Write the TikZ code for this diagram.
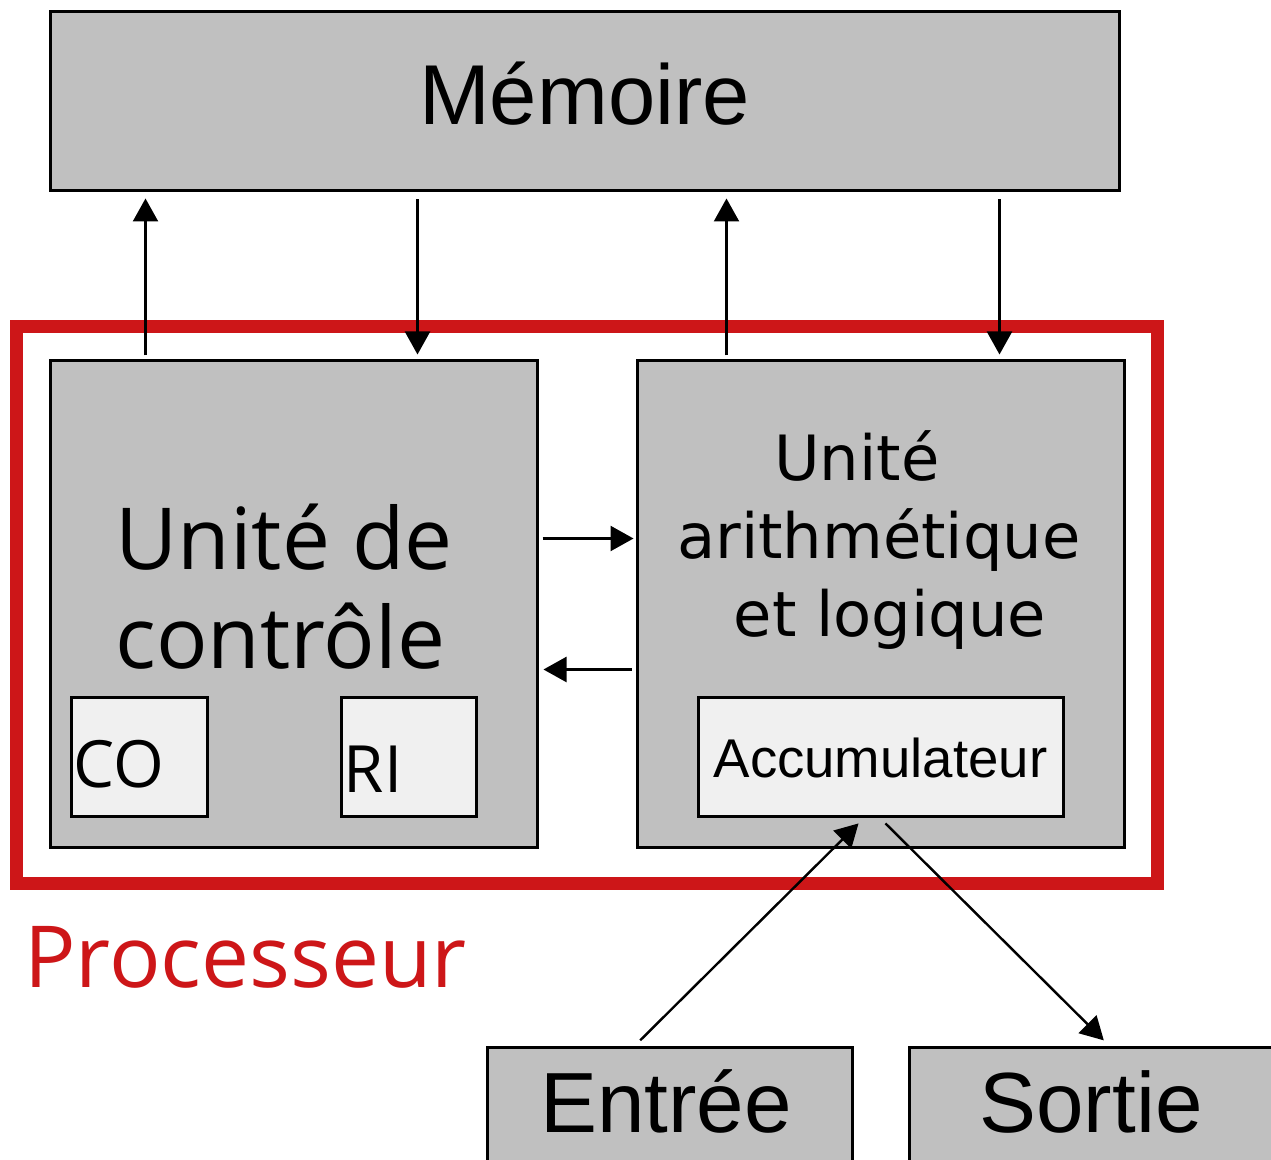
\documentclass[tikz,border=0pt]{standalone}
\usepackage{fontspec}
\setmainfont{Liberation Sans}
\newfontfamily\opensans{Open Sans}
\newfontfamily\dejavu{DejaVu Sans}
\usetikzlibrary{positioning,calc,arrows.meta}

\definecolor{boxgray}{RGB}{192,192,192}
\definecolor{regfill}{RGB}{240,240,240}
\definecolor{cpured}{RGB}{205,22,24}

\begin{document}
\begin{tikzpicture}[x=0.5pt, y=-0.5pt,
unit/.style={draw, line width=1.5pt, fill=boxgray, inner sep=0},
reg/.style={draw, line width=1.5pt, fill=regfill, inner sep=0, minimum height=59.5pt},
arr/.style={line width=1.2pt, -{Triangle[length=11.5pt,width=12.5pt]}, shorten <=2pt, shorten >=2.5pt}
]
\useasboundingbox (0,0) rectangle (1271,1160);
\clip (0,0) rectangle (1271,1160);

% memory
\node[unit, minimum width=534.5pt, minimum height=89.5pt] (mem) at (584.5,101.5) {};
\node[font=\fontsize{42.5}{50}\selectfont, inner sep=0] (memtxt) at ([yshift=4pt]mem.center) {Mémoire};

% processor frame
\node[draw=cpured, line width=6.5pt, minimum width=570.5pt, minimum height=278.5pt] (cpu) at (586.5,605.5) {};
\node[font=\opensans\fontsize{42.8}{50}\selectfont, text=cpured, anchor=base west, inner sep=0] (cpulbl) at (24,987) {Processeur};

% control unit and ALU
\node[unit, minimum width=243.5pt, minimum height=243.5pt] (uc) at (293.5,604.5) {};
\node[unit, minimum width=243.5pt, minimum height=243.5pt] (ual) at (880.5,604.5) {};
\node[font=\opensans\fontsize{42.8}{49.5}\selectfont, align=left, inner sep=0, anchor=west] (uctxt) at (115,587) {Unité de\\contrôle};
\node[font=\dejavu\fontsize{31.2}{39}\selectfont, align=center, inner sep=0] (ualtxt) at (879,540) {Unité\hspace*{22pt}\\arithmétique\\\hspace*{11pt}et logique};

% registers
\node[reg, minimum width=68pt] (co) at (139,757.5) {};
\node[reg, minimum width=67.5pt] (ri) at (408.5,757.5) {};
\node[reg, minimum width=182.5pt, font=\fontsize{27.3}{32}\selectfont] (acc) at (880.5,757.5) {Accumulateur};
\node[font=\opensans\fontsize{32.6}{38}\selectfont, anchor=base west, inner sep=0] (cotxt) at ($(co.west)+(4,30.5)$) {CO};
\node[font=\opensans\fontsize{32.6}{38}\selectfont, anchor=base west, inner sep=0] (ritxt) at ($(ri.west)+(4,35.5)$) {RI};

% input / output
\node[unit, anchor=north, minimum width=182.5pt, minimum height=100pt] (in) at (669.5,1046) {};
\node[unit, anchor=north, minimum width=182.5pt, minimum height=100pt] (out) at (1091.5,1046) {};
\node[font=\fontsize{42.7}{49}\selectfont, anchor=base, inner sep=0] (intxt) at (666,1132) {Entrée};
\node[font=\fontsize{42.7}{49}\selectfont, anchor=base, inner sep=0] (outtxt) at (1091,1132) {Sortie};

% memory buses
\coordinate (uc-up) at ($(uc.north west)+(97,0)$);
\coordinate (uc-dn) at ($(uc.north west)+(369,0)$);
\coordinate (ual-up) at ($(ual.north west)+(91,0)$);
\coordinate (ual-dn) at ($(ual.north west)+(364,0)$);
\draw[arr, shorten >=3pt] (uc-up) -- (uc-up |- mem.south);
\draw[arr, shorten <=3.5pt] (uc-dn |- mem.south) -- (uc-dn);
\draw[arr, shorten >=3pt] (ual-up) -- (ual-up |- mem.south);
\draw[arr, shorten <=3.5pt] (ual-dn |- mem.south) -- (ual-dn);

% between the units
\coordinate (cmd) at ($(uc.north east)+(0,179)$);
\coordinate (res) at ($(uc.north east)+(0,310)$);
\draw[arr, shorten >=1pt] (cmd) -- (cmd -| ual.west);
\draw[arr] (res -| ual.west) -- (res);

% input and output lines
\draw[arr, shorten <=4pt, shorten >=3.5pt] ($(in.north west)+(149,0)$) -- ($(acc.south west)+(167,0)$);
\draw[arr, shorten <=3.5pt, shorten >=4pt] ($(acc.south west)+(184,0)$) -- ($(out.north west)+(202,0)$);
\end{tikzpicture}
\end{document}
